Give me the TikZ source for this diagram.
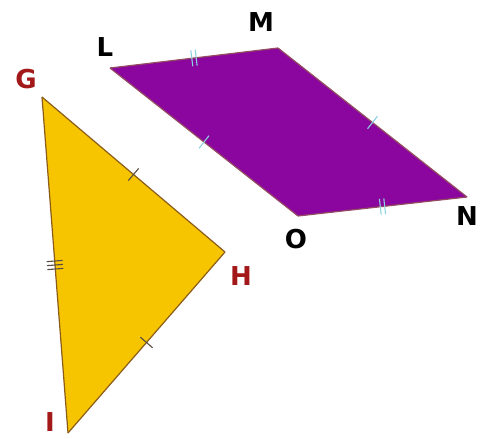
\documentclass[tikz,border=0pt]{standalone}
\usepackage{fontspec}
\setmainfont{DejaVu Sans}
\usetikzlibrary{decorations.markings}

\definecolor{quadfill}{rgb}{0.545,0.020,0.625}
\definecolor{quadedge}{rgb}{0.58,0.30,0.38}
\definecolor{quadtick}{rgb}{0.55,0.82,0.88}
\definecolor{trifill}{rgb}{0.965,0.773,0.0}
\definecolor{triedge}{rgb}{0.55,0.36,0.10}
\definecolor{tritick}{rgb}{0.35,0.30,0.25}
\definecolor{trilabel}{rgb}{0.64,0.10,0.10}

\tikzset{
  vlabel/.style={font=\fontsize{26}{28}\selectfont\bfseries,inner sep=0pt},
  tickone/.style={postaction={decorate,decoration={markings,
    mark=at position 0.5 with {\draw[#1,line width=1.1pt] (0,-8pt) -- (0,8pt);}}}},
  ticktwo/.style={postaction={decorate,decoration={markings,
    mark=at position 0.5 with {\draw[#1,line width=1.1pt] (-2.2pt,-8pt) -- (-2.2pt,8pt) (2.2pt,-8pt) -- (2.2pt,8pt);}}}},
  tickthree/.style={postaction={decorate,decoration={markings,
    mark=at position 0.5 with {\draw[#1,line width=1.1pt] (-4pt,-8pt) -- (-4pt,8pt) (0,-8pt) -- (0,8pt) (4pt,-8pt) -- (4pt,8pt);}}}}
}

\begin{document}
\begin{tikzpicture}[x=1pt,y=-1pt]
\useasboundingbox[fill=white] (0,0) rectangle (491,439);
% parallelogram LMNO
\coordinate (L) at (110,68);
\coordinate (M) at (278,48);
\coordinate (N) at (467,197);
\coordinate (O) at (298,216);
\fill[quadfill] (L) -- (M) -- (N) -- (O) -- cycle;
\draw[quadedge,line width=1.2pt,ticktwo=quadtick] (L) -- (M);
\draw[quadedge,line width=1.2pt,tickone=quadtick] (M) -- (N);
\draw[quadedge,line width=1.2pt,ticktwo=quadtick] (N) -- (O);
\draw[quadedge,line width=1.2pt,tickone=quadtick] (O) -- (L);
% triangle GHI
\coordinate (G) at (42,97);
\coordinate (H) at (225,252);
\coordinate (I) at (68,433);
\fill[trifill] (G) -- (H) -- (I) -- cycle;
\draw[triedge,line width=1.2pt,tickone=tritick] (G) -- (H);
\draw[triedge,line width=1.2pt,tickone=tritick] (H) -- (I);
\draw[triedge,line width=1.2pt,tickthree=tritick] (I) -- (G);
% labels
\node[vlabel] (labL) at (105,47) {L};
\node[vlabel] (labM) at (261,22) {M};
\node[vlabel] (labN) at (467,216) {N};
\node[vlabel] (labO) at (296,239) {O};
\node[vlabel,text=trilabel] (labG) at (26,79) {G};
\node[vlabel,text=trilabel] (labH) at (241,276) {H};
\node[vlabel,text=trilabel] (labI) at (50,422) {I};
\end{tikzpicture}
\end{document}
